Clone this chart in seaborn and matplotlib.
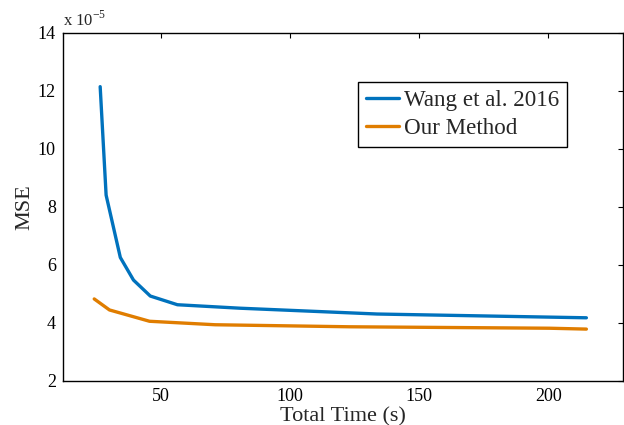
import matplotlib
matplotlib.use('Agg')
import matplotlib.pyplot as plt
import seaborn as sns
import pandas as pd

# values, MSE in units of 1e-5
wang_time = [26.5, 28.8, 34.3, 39.4, 45.9, 56.4, 80.7, 133.7, 214.7]
wang_mse = [12.14, 8.40, 6.25, 5.47, 4.92, 4.62, 4.50, 4.30, 4.17]
ours_time = [24.2, 30.1, 45.6, 71.0, 122.9, 200.4, 214.7]
ours_mse = [4.82, 4.44, 4.05, 3.93, 3.86, 3.81, 3.78]
methods = ['Wang et al. 2016', 'Our Method']
colors = ['#0072BD', '#E07D00']

df = pd.concat([
    pd.DataFrame({'time': wang_time, 'mse': wang_mse, 'method': methods[0]}),
    pd.DataFrame({'time': ours_time, 'mse': ours_mse, 'method': methods[1]}),
], ignore_index=True)

sns.set_style('white')
plt.rcParams['font.family'] = ['Liberation Serif', 'DejaVu Serif']
plt.rcParams['mathtext.fontset'] = 'custom'
plt.rcParams['mathtext.rm'] = 'Liberation Serif'

fig = plt.figure(figsize=(6.24, 4.25), dpi=100)
ax = fig.add_axes([0.1005, 0.1042, 0.8984, 0.8188])

sns.lineplot(data=df, x='time', y='mse', hue='method', hue_order=methods,
             palette=colors, linewidth=2.4, sort=False, ax=ax)

ax.set_xlim(12, 229)
ax.set_ylim(2, 14)
ax.set_xticks([50, 100, 150, 200])
ax.set_yticks([2, 4, 6, 8, 10, 12, 14])
ax.tick_params(direction='in', length=3.5, width=0.8, labelsize=13, colors='black',
               top=True, right=True, pad=5)
for s in ax.spines.values():
    s.set_color('black')
    s.set_linewidth(1.0)

ax.set_xlabel('Total Time (s)', fontsize=16, labelpad=1.5)
ax.set_ylabel('MSE', fontsize=16, labelpad=2)
ax.text(0.0, 1.008, r'x 10$^{-5}$', transform=ax.transAxes, fontsize=12,
        ha='left', va='bottom')

leg = ax.legend(loc='upper left', bbox_to_anchor=(0.526, 0.858), fontsize=16.6,
                frameon=True, fancybox=False, edgecolor='black', framealpha=1,
                handlelength=1.45, handletextpad=0.2, borderpad=0.35,
                labelspacing=0.3, borderaxespad=0)
leg.get_frame().set_linewidth(1.0)
for line in leg.get_lines():
    line.set_linewidth(2.4)

fig.savefig('out.png', dpi=100)
